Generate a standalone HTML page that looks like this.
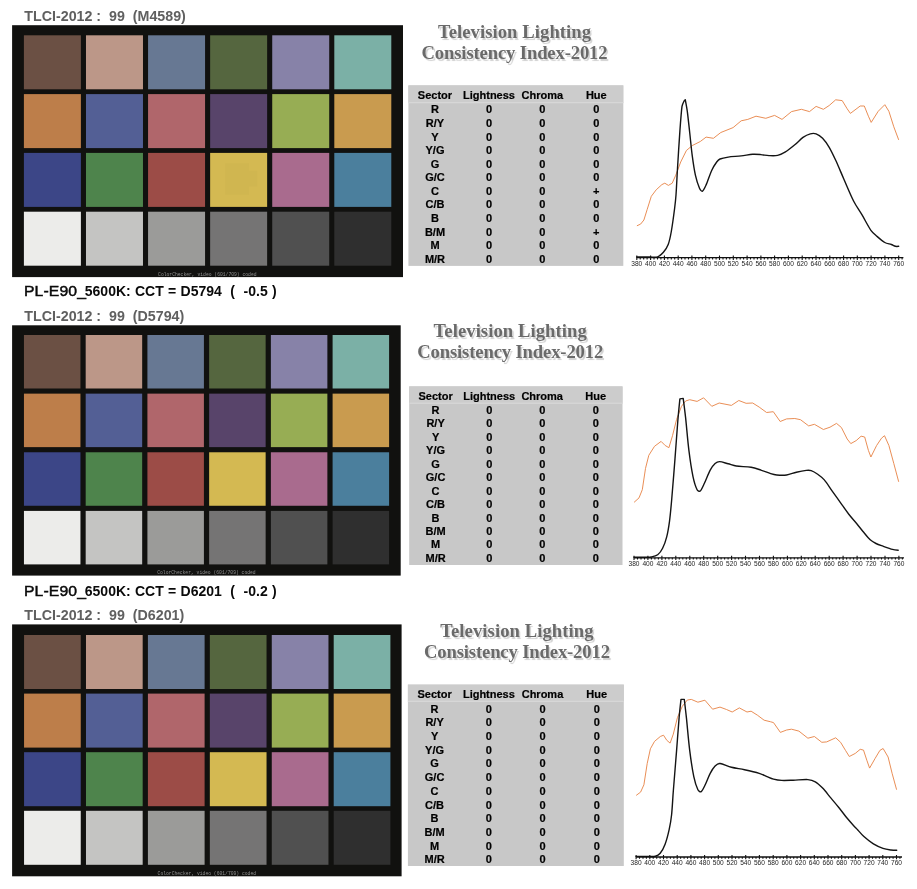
<!DOCTYPE html>
<html lang="en"><head><meta charset="utf-8"><title>TLCI-2012 results</title>
<style>
html,body{margin:0;padding:0;background:#fff}
body{width:917px;height:889px;position:relative;overflow:hidden;font-family:"Liberation Sans",sans-serif}
.h1{position:absolute;font-weight:bold;font-size:14px;line-height:14px;color:#0a0a0a;white-space:pre;word-spacing:0.4px}
.h1a{font-weight:normal;transform-origin:0 0;transform:scaleX(1.125);letter-spacing:0.1px;-webkit-text-stroke:0.45px #0a0a0a}
.tl{position:absolute;font-weight:bold;font-size:14.25px;line-height:13px;color:#606060;white-space:pre}
.ttl{position:absolute;width:260px;text-align:center;font-family:"Liberation Serif",serif;font-weight:bold;font-size:18.6px;line-height:21px;color:#6a6a6a;text-shadow:1.6px 1.6px 0.8px #d2d2d2;letter-spacing:0.08px;white-space:nowrap}
.tb{position:absolute;z-index:3}
.tb span{position:absolute;width:70px;margin-left:-35px;text-align:center;font-weight:bold;font-size:11px;line-height:12px;color:#000;white-space:nowrap;-webkit-text-stroke:0.2px #000}
svg{position:absolute;left:0;top:0}
svg text.cap{font-family:"Liberation Mono",monospace;font-size:4.7px;fill:#8f8f8f;text-anchor:start}
svg text.tk{font-family:"Liberation Sans",sans-serif;font-size:6.6px;fill:#1c1c1c;text-anchor:middle}
</style></head><body>

<div class="tl" style="left:24.3px;top:10px">TLCI-2012 :  99  (M4589)</div>
<div class="ttl" style="left:384.5px;top:20.7px">Television Lighting<br><span style="letter-spacing:-0.12px">Consistency Index-2012</span></div>
<div class="tb" style="left:408.4px;top:85.4px;width:214.9px;height:180.5px">
<span style="left:26.6px;top:3.4px">Sector</span>
<span style="left:80.6px;top:3.4px">Lightness</span>
<span style="left:134px;top:3.4px">Chroma</span>
<span style="left:187.9px;top:3.4px">Hue</span>
<span style="left:26.6px;top:18.1px">R</span>
<span style="left:80.6px;top:18.1px">0</span>
<span style="left:134px;top:18.1px">0</span>
<span style="left:187.9px;top:18.1px">0</span>
<span style="left:26.6px;top:31.7px">R/Y</span>
<span style="left:80.6px;top:31.7px">0</span>
<span style="left:134px;top:31.7px">0</span>
<span style="left:187.9px;top:31.7px">0</span>
<span style="left:26.6px;top:45.2px">Y</span>
<span style="left:80.6px;top:45.2px">0</span>
<span style="left:134px;top:45.2px">0</span>
<span style="left:187.9px;top:45.2px">0</span>
<span style="left:26.6px;top:58.8px">Y/G</span>
<span style="left:80.6px;top:58.8px">0</span>
<span style="left:134px;top:58.8px">0</span>
<span style="left:187.9px;top:58.8px">0</span>
<span style="left:26.6px;top:72.4px">G</span>
<span style="left:80.6px;top:72.4px">0</span>
<span style="left:134px;top:72.4px">0</span>
<span style="left:187.9px;top:72.4px">0</span>
<span style="left:26.6px;top:86px">G/C</span>
<span style="left:80.6px;top:86px">0</span>
<span style="left:134px;top:86px">0</span>
<span style="left:187.9px;top:86px">0</span>
<span style="left:26.6px;top:99.5px">C</span>
<span style="left:80.6px;top:99.5px">0</span>
<span style="left:134px;top:99.5px">0</span>
<span style="left:187.9px;top:99.5px">+</span>
<span style="left:26.6px;top:113.1px">C/B</span>
<span style="left:80.6px;top:113.1px">0</span>
<span style="left:134px;top:113.1px">0</span>
<span style="left:187.9px;top:113.1px">0</span>
<span style="left:26.6px;top:126.7px">B</span>
<span style="left:80.6px;top:126.7px">0</span>
<span style="left:134px;top:126.7px">0</span>
<span style="left:187.9px;top:126.7px">0</span>
<span style="left:26.6px;top:140.3px">B/M</span>
<span style="left:80.6px;top:140.3px">0</span>
<span style="left:134px;top:140.3px">0</span>
<span style="left:187.9px;top:140.3px">+</span>
<span style="left:26.6px;top:153.8px">M</span>
<span style="left:80.6px;top:153.8px">0</span>
<span style="left:134px;top:153.8px">0</span>
<span style="left:187.9px;top:153.8px">0</span>
<span style="left:26.6px;top:167.4px">M/R</span>
<span style="left:80.6px;top:167.4px">0</span>
<span style="left:134px;top:167.4px">0</span>
<span style="left:187.9px;top:167.4px">0</span>
</div>
<div class="h1 h1a" style="left:23.6px;top:284px">PL-E90_</div>
<div class="h1" style="left:84.8px;top:284px">5600K: CCT = D5794  (  -0.5 )</div>
<div class="tl" style="left:24.3px;top:310px">TLCI-2012 :  99  (D5794)</div>
<div class="ttl" style="left:380.2px;top:319.9px">Television Lighting<br><span style="letter-spacing:-0.12px">Consistency Index-2012</span></div>
<div class="tb" style="left:409.2px;top:386.4px;width:213.3px;height:178.6px">
<span style="left:26.4px;top:3.2px">Sector</span>
<span style="left:80px;top:3.2px">Lightness</span>
<span style="left:133px;top:3.2px">Chroma</span>
<span style="left:186.5px;top:3.2px">Hue</span>
<span style="left:26.4px;top:17.5px">R</span>
<span style="left:80px;top:17.5px">0</span>
<span style="left:133px;top:17.5px">0</span>
<span style="left:186.5px;top:17.5px">0</span>
<span style="left:26.4px;top:31px">R/Y</span>
<span style="left:80px;top:31px">0</span>
<span style="left:133px;top:31px">0</span>
<span style="left:186.5px;top:31px">0</span>
<span style="left:26.4px;top:44.4px">Y</span>
<span style="left:80px;top:44.4px">0</span>
<span style="left:133px;top:44.4px">0</span>
<span style="left:186.5px;top:44.4px">0</span>
<span style="left:26.4px;top:57.9px">Y/G</span>
<span style="left:80px;top:57.9px">0</span>
<span style="left:133px;top:57.9px">0</span>
<span style="left:186.5px;top:57.9px">0</span>
<span style="left:26.4px;top:71.4px">G</span>
<span style="left:80px;top:71.4px">0</span>
<span style="left:133px;top:71.4px">0</span>
<span style="left:186.5px;top:71.4px">0</span>
<span style="left:26.4px;top:84.8px">G/C</span>
<span style="left:80px;top:84.8px">0</span>
<span style="left:133px;top:84.8px">0</span>
<span style="left:186.5px;top:84.8px">0</span>
<span style="left:26.4px;top:98.3px">C</span>
<span style="left:80px;top:98.3px">0</span>
<span style="left:133px;top:98.3px">0</span>
<span style="left:186.5px;top:98.3px">0</span>
<span style="left:26.4px;top:111.7px">C/B</span>
<span style="left:80px;top:111.7px">0</span>
<span style="left:133px;top:111.7px">0</span>
<span style="left:186.5px;top:111.7px">0</span>
<span style="left:26.4px;top:125.2px">B</span>
<span style="left:80px;top:125.2px">0</span>
<span style="left:133px;top:125.2px">0</span>
<span style="left:186.5px;top:125.2px">0</span>
<span style="left:26.4px;top:138.7px">B/M</span>
<span style="left:80px;top:138.7px">0</span>
<span style="left:133px;top:138.7px">0</span>
<span style="left:186.5px;top:138.7px">0</span>
<span style="left:26.4px;top:152.1px">M</span>
<span style="left:80px;top:152.1px">0</span>
<span style="left:133px;top:152.1px">0</span>
<span style="left:186.5px;top:152.1px">0</span>
<span style="left:26.4px;top:165.6px">M/R</span>
<span style="left:80px;top:165.6px">0</span>
<span style="left:133px;top:165.6px">0</span>
<span style="left:186.5px;top:165.6px">0</span>
</div>
<div class="h1 h1a" style="left:23.6px;top:584.3px">PL-E90_</div>
<div class="h1" style="left:84.8px;top:584.3px">6500K: CCT = D6201  (  -0.2 )</div>
<div class="tl" style="left:24.3px;top:608.5px">TLCI-2012 :  99  (D6201)</div>
<div class="ttl" style="left:386.9px;top:619.9px">Television Lighting<br><span style="letter-spacing:-0.12px">Consistency Index-2012</span></div>
<div class="tb" style="left:407.9px;top:684.6px;width:215.9px;height:181.4px">
<span style="left:26.7px;top:3.7px">Sector</span>
<span style="left:81px;top:3.7px">Lightness</span>
<span style="left:134.6px;top:3.7px">Chroma</span>
<span style="left:188.8px;top:3.7px">Hue</span>
<span style="left:26.7px;top:18.1px">R</span>
<span style="left:81px;top:18.1px">0</span>
<span style="left:134.6px;top:18.1px">0</span>
<span style="left:188.8px;top:18.1px">0</span>
<span style="left:26.7px;top:31.8px">R/Y</span>
<span style="left:81px;top:31.8px">0</span>
<span style="left:134.6px;top:31.8px">0</span>
<span style="left:188.8px;top:31.8px">0</span>
<span style="left:26.7px;top:45.5px">Y</span>
<span style="left:81px;top:45.5px">0</span>
<span style="left:134.6px;top:45.5px">0</span>
<span style="left:188.8px;top:45.5px">0</span>
<span style="left:26.7px;top:59.2px">Y/G</span>
<span style="left:81px;top:59.2px">0</span>
<span style="left:134.6px;top:59.2px">0</span>
<span style="left:188.8px;top:59.2px">0</span>
<span style="left:26.7px;top:72.9px">G</span>
<span style="left:81px;top:72.9px">0</span>
<span style="left:134.6px;top:72.9px">0</span>
<span style="left:188.8px;top:72.9px">0</span>
<span style="left:26.7px;top:86.6px">G/C</span>
<span style="left:81px;top:86.6px">0</span>
<span style="left:134.6px;top:86.6px">0</span>
<span style="left:188.8px;top:86.6px">0</span>
<span style="left:26.7px;top:100.3px">C</span>
<span style="left:81px;top:100.3px">0</span>
<span style="left:134.6px;top:100.3px">0</span>
<span style="left:188.8px;top:100.3px">0</span>
<span style="left:26.7px;top:114px">C/B</span>
<span style="left:81px;top:114px">0</span>
<span style="left:134.6px;top:114px">0</span>
<span style="left:188.8px;top:114px">0</span>
<span style="left:26.7px;top:127.7px">B</span>
<span style="left:81px;top:127.7px">0</span>
<span style="left:134.6px;top:127.7px">0</span>
<span style="left:188.8px;top:127.7px">0</span>
<span style="left:26.7px;top:141.4px">B/M</span>
<span style="left:81px;top:141.4px">0</span>
<span style="left:134.6px;top:141.4px">0</span>
<span style="left:188.8px;top:141.4px">0</span>
<span style="left:26.7px;top:155.1px">M</span>
<span style="left:81px;top:155.1px">0</span>
<span style="left:134.6px;top:155.1px">0</span>
<span style="left:188.8px;top:155.1px">0</span>
<span style="left:26.7px;top:168.8px">M/R</span>
<span style="left:81px;top:168.8px">0</span>
<span style="left:134.6px;top:168.8px">0</span>
<span style="left:188.8px;top:168.8px">0</span>
</div>
<svg width="917" height="889" viewBox="0 0 917 889">
<rect x="12.1" y="25.2" width="390.9" height="251.9" fill="#11110f"/>
<rect x="23.9" y="35.3" width="57" height="54" fill="#6b5044"/>
<rect x="85.98" y="35.3" width="57" height="54" fill="#bc9788"/>
<rect x="148.06" y="35.3" width="57" height="54" fill="#677893"/>
<rect x="210.14" y="35.3" width="57" height="54" fill="#55663f"/>
<rect x="272.22" y="35.3" width="57" height="54" fill="#8782a8"/>
<rect x="334.3" y="35.3" width="57" height="54" fill="#7bb0a6"/>
<rect x="23.9" y="94.1" width="57" height="54" fill="#bd7e4a"/>
<rect x="85.98" y="94.1" width="57" height="54" fill="#535f95"/>
<rect x="148.06" y="94.1" width="57" height="54" fill="#b0666b"/>
<rect x="210.14" y="94.1" width="57" height="54" fill="#58446a"/>
<rect x="272.22" y="94.1" width="57" height="54" fill="#97ad54"/>
<rect x="334.3" y="94.1" width="57" height="54" fill="#c99b4f"/>
<rect x="23.9" y="152.9" width="57" height="54" fill="#3c4687"/>
<rect x="85.98" y="152.9" width="57" height="54" fill="#4e844c"/>
<rect x="148.06" y="152.9" width="57" height="54" fill="#9c4c47"/>
<rect x="210.14" y="152.9" width="57" height="54" fill="#d4b952"/>
<rect x="272.22" y="152.9" width="57" height="54" fill="#a96b8e"/>
<rect x="334.3" y="152.9" width="57" height="54" fill="#4b7f9d"/>
<rect x="23.9" y="211.7" width="57" height="54" fill="#ececea"/>
<rect x="85.98" y="211.7" width="57" height="54" fill="#c4c4c2"/>
<rect x="148.06" y="211.7" width="57" height="54" fill="#9b9b99"/>
<rect x="210.14" y="211.7" width="57" height="54" fill="#757474"/>
<rect x="272.22" y="211.7" width="57" height="54" fill="#505050"/>
<rect x="334.3" y="211.7" width="57" height="54" fill="#2f2f2f"/>
<path d="M225.3 163.2H248.9V170.7H257.2V186.4H248.9V194.7H225.3Z" fill="#d0b650"/>
<text class="cap" x="158.1" y="275.8">ColorChecker, video (601/709) coded</text>
<rect x="408.4" y="85.4" width="214.9" height="180.5" fill="#c8c8c8"/>
<rect x="408.4" y="85.4" width="214.9" height="17.6" fill="#cccccc"/>
<rect x="408.4" y="102.2" width="214.9" height="1" fill="#dadada"/>
<rect x="12.1" y="325.3" width="388.6" height="250.3" fill="#11110f"/>
<rect x="23.95" y="335" width="56.5" height="53.5" fill="#6b5044"/>
<rect x="85.68" y="335" width="56.5" height="53.5" fill="#bc9788"/>
<rect x="147.41" y="335" width="56.5" height="53.5" fill="#677893"/>
<rect x="209.14" y="335" width="56.5" height="53.5" fill="#55663f"/>
<rect x="270.87" y="335" width="56.5" height="53.5" fill="#8782a8"/>
<rect x="332.6" y="335" width="56.5" height="53.5" fill="#7bb0a6"/>
<rect x="23.95" y="393.63" width="56.5" height="53.5" fill="#bd7e4a"/>
<rect x="85.68" y="393.63" width="56.5" height="53.5" fill="#535f95"/>
<rect x="147.41" y="393.63" width="56.5" height="53.5" fill="#b0666b"/>
<rect x="209.14" y="393.63" width="56.5" height="53.5" fill="#58446a"/>
<rect x="270.87" y="393.63" width="56.5" height="53.5" fill="#97ad54"/>
<rect x="332.6" y="393.63" width="56.5" height="53.5" fill="#c99b4f"/>
<rect x="23.95" y="452.27" width="56.5" height="53.5" fill="#3c4687"/>
<rect x="85.68" y="452.27" width="56.5" height="53.5" fill="#4e844c"/>
<rect x="147.41" y="452.27" width="56.5" height="53.5" fill="#9c4c47"/>
<rect x="209.14" y="452.27" width="56.5" height="53.5" fill="#d4b952"/>
<rect x="270.87" y="452.27" width="56.5" height="53.5" fill="#a96b8e"/>
<rect x="332.6" y="452.27" width="56.5" height="53.5" fill="#4b7f9d"/>
<rect x="23.95" y="510.9" width="56.5" height="53.5" fill="#ececea"/>
<rect x="85.68" y="510.9" width="56.5" height="53.5" fill="#c4c4c2"/>
<rect x="147.41" y="510.9" width="56.5" height="53.5" fill="#9b9b99"/>
<rect x="209.14" y="510.9" width="56.5" height="53.5" fill="#757474"/>
<rect x="270.87" y="510.9" width="56.5" height="53.5" fill="#505050"/>
<rect x="332.6" y="510.9" width="56.5" height="53.5" fill="#2f2f2f"/>
<text class="cap" x="157.24" y="574.3">ColorChecker, video (601/709) coded</text>
<rect x="409.2" y="386.4" width="213.3" height="178.6" fill="#c8c8c8"/>
<rect x="409.2" y="386.4" width="213.3" height="17.1" fill="#cccccc"/>
<rect x="409.2" y="402.7" width="213.3" height="1" fill="#dadada"/>
<rect x="12.1" y="624.4" width="389.5" height="251.9" fill="#11110f"/>
<rect x="24.05" y="635" width="56.7" height="54" fill="#6b5044"/>
<rect x="85.98" y="635" width="56.7" height="54" fill="#bc9788"/>
<rect x="147.91" y="635" width="56.7" height="54" fill="#677893"/>
<rect x="209.84" y="635" width="56.7" height="54" fill="#55663f"/>
<rect x="271.77" y="635" width="56.7" height="54" fill="#8782a8"/>
<rect x="333.7" y="635" width="56.7" height="54" fill="#7bb0a6"/>
<rect x="24.05" y="693.6" width="56.7" height="54" fill="#bd7e4a"/>
<rect x="85.98" y="693.6" width="56.7" height="54" fill="#535f95"/>
<rect x="147.91" y="693.6" width="56.7" height="54" fill="#b0666b"/>
<rect x="209.84" y="693.6" width="56.7" height="54" fill="#58446a"/>
<rect x="271.77" y="693.6" width="56.7" height="54" fill="#97ad54"/>
<rect x="333.7" y="693.6" width="56.7" height="54" fill="#c99b4f"/>
<rect x="24.05" y="752.2" width="56.7" height="54" fill="#3c4687"/>
<rect x="85.98" y="752.2" width="56.7" height="54" fill="#4e844c"/>
<rect x="147.91" y="752.2" width="56.7" height="54" fill="#9c4c47"/>
<rect x="209.84" y="752.2" width="56.7" height="54" fill="#d4b952"/>
<rect x="271.77" y="752.2" width="56.7" height="54" fill="#a96b8e"/>
<rect x="333.7" y="752.2" width="56.7" height="54" fill="#4b7f9d"/>
<rect x="24.05" y="810.8" width="56.7" height="54" fill="#ececea"/>
<rect x="85.98" y="810.8" width="56.7" height="54" fill="#c4c4c2"/>
<rect x="147.91" y="810.8" width="56.7" height="54" fill="#9b9b99"/>
<rect x="209.84" y="810.8" width="56.7" height="54" fill="#757474"/>
<rect x="271.77" y="810.8" width="56.7" height="54" fill="#505050"/>
<rect x="333.7" y="810.8" width="56.7" height="54" fill="#2f2f2f"/>
<text class="cap" x="157.58" y="875">ColorChecker, video (601/709) coded</text>
<rect x="407.9" y="684.6" width="215.9" height="181.4" fill="#c8c8c8"/>
<rect x="407.9" y="684.6" width="215.9" height="17" fill="#cccccc"/>
<rect x="407.9" y="700.8" width="215.9" height="1" fill="#dadada"/>
<polyline points="636.9,225.8 640.6,224.1 643.9,220 647.2,209.4 651.3,196.3 656.2,189.8 661.9,184.6 664.8,183.2 668.4,185.4 672.2,183.2 675.8,175.1 680.7,162 686.4,150.5 692.2,145.6 700.3,141.5 706.1,137.1 713.4,138.3 720.8,132.5 733.1,127.6 741.2,120.8 747.8,119.4 756,116.2 765.8,118.3 774.6,115.4 782,119.4 791.5,111.6 801.4,109.3 809.5,111.6 816.1,106.4 823.4,109.3 829.2,105.5 835.7,99.8 842.2,100.6 847.2,108.8 850.4,113.4 860.2,106 864.3,106 868.4,116.2 871.2,122.4 878.2,111.3 884.8,104.7 888.9,111.3 893.8,126.8 898.7,139.9" fill="none" stroke="#e8884d" stroke-width="0.95" stroke-linejoin="round"/>
<path d="M636.8 257C636.8 257 646.52 257.03 650 257C652.57 256.98 655.47 257.58 657.7 256.8C659.93 256.02 661.84 254.15 663.4 252.3C665.17 250.2 667.18 247.15 668.3 244.2C669.62 240.73 670.54 235.78 671.3 231.5C672.35 225.55 673.82 214.58 674.6 208.5C675.18 204.01 675.67 199.51 676 195C676.48 188.33 676.96 177.33 677.5 168.5C678.15 157.82 679.15 141.25 679.9 130.9C680.49 122.72 681.32 111.35 682 106.4C682.25 104.56 683.45 102.3 684 101.2C684.28 100.63 685.3 99.8 685.3 99.8C685.3 99.8 686.78 107.44 687.3 111.3C688.03 116.75 688.91 125.43 689.7 132.5C690.52 139.85 691.25 148.3 692.2 155.4C693.08 161.99 694.18 169.63 695.4 175.1C696.39 179.57 698.32 185.53 699.5 188.2C700.06 189.47 701.4 191.65 702.5 191.1C703.6 190.55 705.13 187.08 706.1 184.9C707.65 181.42 710.03 174.02 711.8 170.2C713.14 167.31 715.33 163.87 716.7 162C717.58 160.8 718.63 159.58 720 159C721.92 158.18 725.42 157.51 728.2 157.1C731.73 156.58 737.12 156.37 741.2 155.9C745.05 155.46 749.42 154.52 752.7 154.3C755.43 154.12 758.18 154.38 760.9 154.6C763.61 154.82 766.28 155.47 769 155.6C771.78 155.73 774.93 155.97 777.6 155.4C780.23 154.84 782.71 153.61 785 152.2C787.87 150.43 791.8 147.27 794.8 144.8C797.64 142.46 800.42 139.23 803 137.4C805.21 135.83 808.12 134.4 810.3 133.8C812.16 133.29 814.28 133.14 816.1 133.8C818.15 134.55 820.76 136.41 822.6 138.3C824.78 140.55 827.3 144.1 829.2 147.3C831.38 150.97 833.67 155.9 835.7 160.3C838.15 165.62 841.13 172.91 843.9 179.2C846.9 186.02 850.7 195.28 853.7 201.2C856.08 205.9 859.22 210.17 861.9 214.7C864.77 219.55 868.45 226.75 870.9 230.3C872.43 232.51 874.58 234.23 876.6 236C878.92 238.03 882.35 241.08 884.8 242.5C886.76 243.63 889.53 243.87 891.3 244.5C892.71 245 894.17 246 895.4 246.3C896.47 246.56 898.7 246.3 898.7 246.3" fill="none" stroke="#141414" stroke-width="1.4" stroke-linejoin="round" stroke-linecap="round"/>
<line x1="636.8" y1="257.7" x2="903.4" y2="257.7" stroke="#111" stroke-width="1.3"/>
<path d="M636.8 255.6V259.9M640.2 257.7V259.4M643.7 257.7V259.4M647.1 257.7V259.4M650.6 255.6V259.9M654 257.7V259.4M657.5 257.7V259.4M660.9 257.7V259.4M664.4 255.6V259.9M667.8 257.7V259.4M671.3 257.7V259.4M674.7 257.7V259.4M678.2 255.6V259.9M681.6 257.7V259.4M685 257.7V259.4M688.5 257.7V259.4M691.9 255.6V259.9M695.4 257.7V259.4M698.8 257.7V259.4M702.3 257.7V259.4M705.7 255.6V259.9M709.2 257.7V259.4M712.6 257.7V259.4M716.1 257.7V259.4M719.5 255.6V259.9M723 257.7V259.4M726.4 257.7V259.4M729.8 257.7V259.4M733.3 255.6V259.9M736.7 257.7V259.4M740.2 257.7V259.4M743.6 257.7V259.4M747.1 255.6V259.9M750.5 257.7V259.4M754 257.7V259.4M757.4 257.7V259.4M760.9 255.6V259.9M764.3 257.7V259.4M767.8 257.7V259.4M771.2 257.7V259.4M774.6 255.6V259.9M778.1 257.7V259.4M781.5 257.7V259.4M785 257.7V259.4M788.4 255.6V259.9M791.9 257.7V259.4M795.3 257.7V259.4M798.8 257.7V259.4M802.2 255.6V259.9M805.7 257.7V259.4M809.1 257.7V259.4M812.5 257.7V259.4M816 255.6V259.9M819.4 257.7V259.4M822.9 257.7V259.4M826.3 257.7V259.4M829.8 255.6V259.9M833.2 257.7V259.4M836.7 257.7V259.4M840.1 257.7V259.4M843.6 255.6V259.9M847 257.7V259.4M850.5 257.7V259.4M853.9 257.7V259.4M857.3 255.6V259.9M860.8 257.7V259.4M864.2 257.7V259.4M867.7 257.7V259.4M871.1 255.6V259.9M874.6 257.7V259.4M878 257.7V259.4M881.5 257.7V259.4M884.9 255.6V259.9M888.4 257.7V259.4M891.8 257.7V259.4M895.3 257.7V259.4M898.7 255.6V259.9M902.1 257.7V259.4" stroke="#111" stroke-width="1.1" fill="none"/>
<text class="tk" x="636.8" y="266">380</text>
<text class="tk" x="650.6" y="266">400</text>
<text class="tk" x="664.4" y="266">420</text>
<text class="tk" x="678.2" y="266">440</text>
<text class="tk" x="691.9" y="266">460</text>
<text class="tk" x="705.7" y="266">480</text>
<text class="tk" x="719.5" y="266">500</text>
<text class="tk" x="733.3" y="266">520</text>
<text class="tk" x="747.1" y="266">540</text>
<text class="tk" x="760.9" y="266">560</text>
<text class="tk" x="774.6" y="266">580</text>
<text class="tk" x="788.4" y="266">600</text>
<text class="tk" x="802.2" y="266">620</text>
<text class="tk" x="816" y="266">640</text>
<text class="tk" x="829.8" y="266">660</text>
<text class="tk" x="843.6" y="266">680</text>
<text class="tk" x="857.3" y="266">700</text>
<text class="tk" x="871.1" y="266">720</text>
<text class="tk" x="884.9" y="266">740</text>
<text class="tk" x="898.7" y="266">760</text>
<polyline points="634.1,502.3 639,497.9 642.3,489.7 645.5,468.4 648.8,455.3 654.5,446.3 661.1,441.4 665.2,445.5 668.9,447.7 672.5,435.7 676.6,419.4 681.5,406.3 685.6,401 689.7,399.7 697.1,401.4 703.6,397.8 711.8,406.3 719.2,403 731.4,405.4 738.8,400.5 746.1,403.3 752.7,403 759.2,407.1 766.6,412.5 773.3,411.7 780.2,421.5 786.6,418.9 794.8,418.5 800.5,419.7 808.7,425.9 814.4,424.3 823.4,429.5 830,427.2 836.5,423.4 841.4,427.5 847.2,439 850.8,443.6 856.2,440.6 861.1,436.2 864.7,437 868.4,450.4 870.9,457 876.6,445.5 881.5,438.2 884.5,435.7 888.9,445.5 893.8,463.5 898.7,481.8" fill="none" stroke="#e8884d" stroke-width="0.95" stroke-linejoin="round"/>
<path d="M634 557.2C634 557.2 642.13 557.23 645 557.2C647.07 557.18 649.17 557.38 651.2 557C653.32 556.6 655.88 556.19 657.7 554.8C659.6 553.35 661.39 550.73 662.6 548.3C664.1 545.3 665.69 540.74 666.7 536.8C667.85 532.3 668.8 526.5 669.5 521.3C670.33 515.08 671.06 506.78 671.7 499.5C672.62 489.05 673.98 471.68 675 458.6C675.97 446.07 676.98 430.95 677.8 421C678.41 413.62 679.9 398.9 679.9 398.9C679.9 398.9 683.2 398.4 683.2 398.4C683.2 398.4 684.89 411.26 685.6 417.7C686.55 426.37 687.67 440.58 688.9 450.4C690 459.17 691.63 470.05 693 476.6C693.93 481.08 695.88 487.3 697.1 489.7C697.62 490.73 699.44 491.77 700.3 491C701.52 489.92 703.14 485.85 704.4 483.2C706.05 479.72 708.42 473.38 710.2 470.1C711.51 467.69 713.53 464.92 715.1 463.5C716.31 462.41 717.97 461.56 719.6 461.6C721.78 461.65 725.42 463.07 728.2 463.8C730.91 464.51 733.53 465.58 736.3 466C740.12 466.58 747 466.62 751.1 467.3C754.45 467.86 757.67 469.05 760.9 470.1C764.17 471.17 768.05 472.88 770.7 473.7C772.69 474.31 774.73 474.83 776.8 475C779.45 475.22 783.37 475.46 786.6 475C789.87 474.53 793.12 472.97 796.4 472.2C799.67 471.44 803.83 470.67 806.3 470.4C807.93 470.22 809.65 470.08 811.2 470.6C813.1 471.23 815.68 472.77 817.7 474.2C819.88 475.75 822.41 477.7 824.3 479.9C826.75 482.75 829.7 487.5 832.4 491.3C835.12 495.12 837.87 498.98 840.6 502.8C843.33 506.61 846.07 510.67 848.8 514.2C851.41 517.57 854.63 521.12 857 524C859.03 526.47 860.95 529.04 863 531.5C865.2 534.13 868.03 537.8 870.2 539.8C871.89 541.36 873.95 542.47 876 543.5C878.13 544.57 880.65 545.36 883 546.2C885.75 547.18 889.97 548.72 892.5 549.4C894.36 549.9 898.2 550.3 898.2 550.3" fill="none" stroke="#141414" stroke-width="1.4" stroke-linejoin="round" stroke-linecap="round"/>
<line x1="634" y1="557.8" x2="904" y2="557.8" stroke="#111" stroke-width="1.3"/>
<path d="M634 555.7V560M637.5 557.8V559.5M641 557.8V559.5M644.5 557.8V559.5M647.9 555.7V560M651.4 557.8V559.5M654.9 557.8V559.5M658.4 557.8V559.5M661.9 555.7V560M665.4 557.8V559.5M668.9 557.8V559.5M672.3 557.8V559.5M675.8 555.7V560M679.3 557.8V559.5M682.8 557.8V559.5M686.3 557.8V559.5M689.8 555.7V560M693.3 557.8V559.5M696.7 557.8V559.5M700.2 557.8V559.5M703.7 555.7V560M707.2 557.8V559.5M710.7 557.8V559.5M714.2 557.8V559.5M717.7 555.7V560M721.1 557.8V559.5M724.6 557.8V559.5M728.1 557.8V559.5M731.6 555.7V560M735.1 557.8V559.5M738.6 557.8V559.5M742.1 557.8V559.5M745.5 555.7V560M749 557.8V559.5M752.5 557.8V559.5M756 557.8V559.5M759.5 555.7V560M763 557.8V559.5M766.5 557.8V559.5M769.9 557.8V559.5M773.4 555.7V560M776.9 557.8V559.5M780.4 557.8V559.5M783.9 557.8V559.5M787.4 555.7V560M790.8 557.8V559.5M794.3 557.8V559.5M797.8 557.8V559.5M801.3 555.7V560M804.8 557.8V559.5M808.3 557.8V559.5M811.8 557.8V559.5M815.2 555.7V560M818.7 557.8V559.5M822.2 557.8V559.5M825.7 557.8V559.5M829.2 555.7V560M832.7 557.8V559.5M836.2 557.8V559.5M839.6 557.8V559.5M843.1 555.7V560M846.6 557.8V559.5M850.1 557.8V559.5M853.6 557.8V559.5M857.1 555.7V560M860.6 557.8V559.5M864 557.8V559.5M867.5 557.8V559.5M871 555.7V560M874.5 557.8V559.5M878 557.8V559.5M881.5 557.8V559.5M885 555.7V560M888.4 557.8V559.5M891.9 557.8V559.5M895.4 557.8V559.5M898.9 555.7V560M902.4 557.8V559.5" stroke="#111" stroke-width="1.1" fill="none"/>
<text class="tk" x="634" y="566.1">380</text>
<text class="tk" x="647.9" y="566.1">400</text>
<text class="tk" x="661.9" y="566.1">420</text>
<text class="tk" x="675.8" y="566.1">440</text>
<text class="tk" x="689.8" y="566.1">460</text>
<text class="tk" x="703.7" y="566.1">480</text>
<text class="tk" x="717.7" y="566.1">500</text>
<text class="tk" x="731.6" y="566.1">520</text>
<text class="tk" x="745.5" y="566.1">540</text>
<text class="tk" x="759.5" y="566.1">560</text>
<text class="tk" x="773.4" y="566.1">580</text>
<text class="tk" x="787.4" y="566.1">600</text>
<text class="tk" x="801.3" y="566.1">620</text>
<text class="tk" x="815.2" y="566.1">640</text>
<text class="tk" x="829.2" y="566.1">660</text>
<text class="tk" x="843.1" y="566.1">680</text>
<text class="tk" x="857.1" y="566.1">700</text>
<text class="tk" x="871" y="566.1">720</text>
<text class="tk" x="885" y="566.1">740</text>
<text class="tk" x="898.9" y="566.1">760</text>
<polyline points="636.2,795.4 640.6,792.1 643.9,784.8 647.2,763.5 650.4,748.8 654.5,741.4 660.3,736.5 663.5,735.2 666.8,740.3 670.1,743.1 673.3,734.1 677.4,717.7 682.3,706.3 687.3,700 691.3,699.4 697.9,702.2 704.9,700.2 712.6,709.2 720,707.1 726.5,709.5 732.2,712 739.3,707.9 747,712 751.1,711.2 757.6,715.3 764.1,720.2 770.7,721.8 773.5,722.6 780.4,732.4 786.6,730 791.5,729.2 798.9,731.1 807.9,738.2 814.4,736.5 821.8,742.3 826.7,741.9 835.7,737.8 840.6,742.3 845.5,750.4 849.3,756.5 855.3,753.4 860.2,749.3 863.5,750.1 866.8,760.2 869.6,768.1 875,758.6 879.9,750.4 883.1,748.5 888.1,757 892.1,773.3 896.6,789.7" fill="none" stroke="#e8884d" stroke-width="0.95" stroke-linejoin="round"/>
<path d="M636.1 856.4C636.1 856.4 644.8 856.43 648 856.4C650.43 856.37 653.27 856.73 655.3 856.2C657.15 855.71 658.99 854.68 660.2 853.2C661.83 851.2 663.89 847.4 665.1 844.2C666.6 840.23 668.12 834.32 669.2 829.4C670.27 824.55 671.07 819.64 671.6 814.7C672.28 808.35 672.69 799.1 673.3 791.3C674.13 780.58 675.63 762.67 676.6 750.4C677.46 739.5 678.37 726.2 679.1 717.7C679.63 711.59 681 699.4 681 699.4C681 699.4 684.3 699.4 684.3 699.4C684.3 699.4 685.75 711.59 686.4 717.7C687.3 726.2 688.47 740.58 689.7 750.4C690.8 759.17 692.43 770.05 693.8 776.6C694.73 781.08 696.67 787.18 697.9 789.7C698.47 790.86 700.13 792.42 701.2 791.7C702.42 790.88 704.03 787.19 705.2 784.8C706.7 781.73 708.55 776.43 710.2 773.3C711.57 770.71 713.47 767.63 715.1 766C716.4 764.7 718.17 763.35 720 763.5C722.72 763.72 727.52 766.32 731.4 767.3C735.48 768.33 740.16 768.76 744.5 769.7C749.13 770.7 755.45 772.15 759.2 773.3C761.9 774.13 764.62 775.63 767 776.6C769.15 777.47 771.25 778.52 773.5 779.1C775.95 779.73 778.94 780.25 781.7 780.4C784.98 780.58 789.37 780.32 793.2 780.2C797.57 780.07 804.22 779.33 807.9 779.6C810.47 779.79 813.07 780.51 815.3 781.8C817.75 783.22 820.37 785.78 822.6 788.1C825.18 790.78 828.07 794.63 830.8 797.9C833.53 801.17 836.33 804.38 839 807.7C841.73 811.1 844.75 815.3 847.2 818.3C849.28 820.84 851.93 823.77 853.7 825.7C855.02 827.14 856.46 828.47 857.8 829.9C859.5 831.72 861.65 834.58 863.9 836.6C866.5 838.93 870.22 841.93 873.4 843.9C876.41 845.76 880.08 847.38 883 848.4C885.54 849.28 888.62 849.68 890.9 850C892.82 850.27 896.7 850.3 896.7 850.3" fill="none" stroke="#141414" stroke-width="1.4" stroke-linejoin="round" stroke-linecap="round"/>
<line x1="636.1" y1="857" x2="902" y2="857" stroke="#111" stroke-width="1.3"/>
<path d="M636.1 854.9V859.2M639.5 857V858.7M643 857V858.7M646.4 857V858.7M649.8 854.9V859.2M653.2 857V858.7M656.7 857V858.7M660.1 857V858.7M663.5 854.9V859.2M666.9 857V858.7M670.4 857V858.7M673.8 857V858.7M677.2 854.9V859.2M680.6 857V858.7M684.1 857V858.7M687.5 857V858.7M690.9 854.9V859.2M694.3 857V858.7M697.8 857V858.7M701.2 857V858.7M704.6 854.9V859.2M708.1 857V858.7M711.5 857V858.7M714.9 857V858.7M718.3 854.9V859.2M721.8 857V858.7M725.2 857V858.7M728.6 857V858.7M732 854.9V859.2M735.5 857V858.7M738.9 857V858.7M742.3 857V858.7M745.7 854.9V859.2M749.2 857V858.7M752.6 857V858.7M756 857V858.7M759.4 854.9V859.2M762.9 857V858.7M766.3 857V858.7M769.7 857V858.7M773.2 854.9V859.2M776.6 857V858.7M780 857V858.7M783.4 857V858.7M786.9 854.9V859.2M790.3 857V858.7M793.7 857V858.7M797.1 857V858.7M800.6 854.9V859.2M804 857V858.7M807.4 857V858.7M810.8 857V858.7M814.3 854.9V859.2M817.7 857V858.7M821.1 857V858.7M824.5 857V858.7M828 854.9V859.2M831.4 857V858.7M834.8 857V858.7M838.3 857V858.7M841.7 854.9V859.2M845.1 857V858.7M848.5 857V858.7M852 857V858.7M855.4 854.9V859.2M858.8 857V858.7M862.2 857V858.7M865.7 857V858.7M869.1 854.9V859.2M872.5 857V858.7M875.9 857V858.7M879.4 857V858.7M882.8 854.9V859.2M886.2 857V858.7M889.6 857V858.7M893.1 857V858.7M896.5 854.9V859.2M899.9 857V858.7" stroke="#111" stroke-width="1.1" fill="none"/>
<text class="tk" x="636.1" y="865.3">380</text>
<text class="tk" x="649.8" y="865.3">400</text>
<text class="tk" x="663.5" y="865.3">420</text>
<text class="tk" x="677.2" y="865.3">440</text>
<text class="tk" x="690.9" y="865.3">460</text>
<text class="tk" x="704.6" y="865.3">480</text>
<text class="tk" x="718.3" y="865.3">500</text>
<text class="tk" x="732" y="865.3">520</text>
<text class="tk" x="745.7" y="865.3">540</text>
<text class="tk" x="759.4" y="865.3">560</text>
<text class="tk" x="773.2" y="865.3">580</text>
<text class="tk" x="786.9" y="865.3">600</text>
<text class="tk" x="800.6" y="865.3">620</text>
<text class="tk" x="814.3" y="865.3">640</text>
<text class="tk" x="828" y="865.3">660</text>
<text class="tk" x="841.7" y="865.3">680</text>
<text class="tk" x="855.4" y="865.3">700</text>
<text class="tk" x="869.1" y="865.3">720</text>
<text class="tk" x="882.8" y="865.3">740</text>
<text class="tk" x="896.5" y="865.3">760</text>
</svg>
</body></html>
